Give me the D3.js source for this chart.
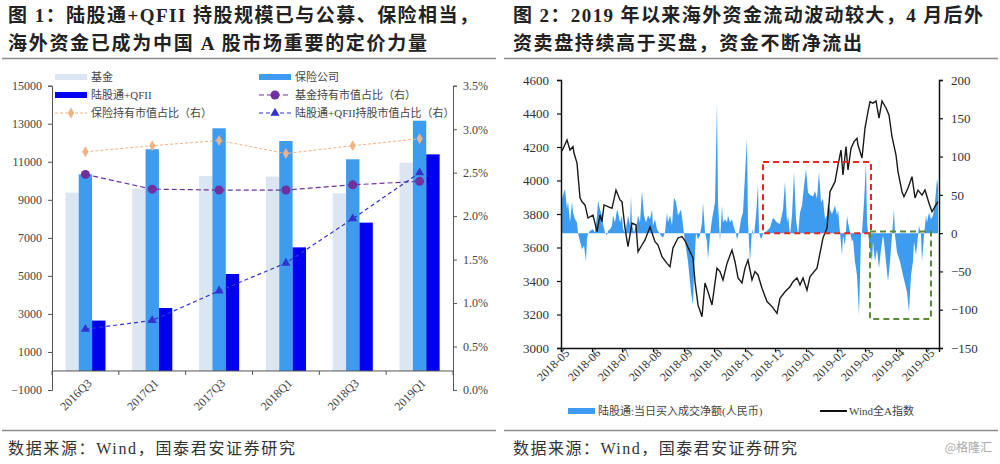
<!DOCTYPE html>
<meta charset="utf-8">
<style>
    body { margin: 0; background: #fff; }
    svg { display: block; background: #fff; }
    text { font-family: "Liberation Serif", "Noto Sans CJK SC", serif; fill: #333; }
    .title { font-size: 19px; font-weight: bold; fill: #222; }
    .foot { font-size: 16px; fill: #333; }
    .num { font-size: 12px; }
    .leg { font-size: 11px; fill: #444; }
</style>
<svg width="1000" height="464"></svg>
<script src="https://d3js.org/d3.v7.min.js"></script>
<script>
    // ---- figure 1 data ----
    var quarters = ["2016Q3", "2017Q1", "2017Q3", "2018Q1", "2018Q3", "2019Q1"];
    var fundValue = [9380, 9600, 10250, 10220, 9340, 10950];
    var insuranceValue = [10340, 11660, 12760, 12090, 11130, 13160];
    var foreignValue = [2650, 3310, 5100, 6500, 7800, 11390];
    var insuranceShare = [2.74, 2.81, 2.87, 2.72, 2.81, 2.89];
    var fundShare = [2.48, 2.31, 2.30, 2.30, 2.36, 2.40];
    var foreignShare = [0.70, 0.80, 1.14, 1.46, 1.97, 2.50];
    var leftTicks = [-1000, 1000, 3000, 5000, 7000, 9000, 11000, 13000, 15000];
    var pctTicks = [0, 0.5, 1, 1.5, 2, 2.5, 3, 3.5];

    // ---- figure 2 data (days counted from 2018-05-01) ----
    var startDate = "2018-05-01";
    var flowDays = [0, 4, 6, 7, 9, 11, 12, 14, 16, 17, 19, 21, 23, 25, 26, 27, 29, 32, 34, 36, 37, 39, 41, 42, 44, 46, 47, 49, 51, 52,
        54, 56, 57, 59, 61, 62, 64, 66, 67, 69, 70, 71, 73, 76, 77, 79, 81, 83, 85, 87, 89, 91, 92, 94, 96, 98, 100, 102, 104, 106,
        107, 109, 111, 113, 115, 117, 120, 122, 124, 127, 130, 132, 133, 135, 137, 139, 141, 142, 144, 146, 147, 149, 151, 154, 156, 157, 159, 161, 162, 164,
        166, 167, 169, 171, 172, 175, 176, 178, 180, 182, 184, 186, 187, 189, 191, 193, 195, 197, 198, 200, 202, 204, 206, 209, 212, 216, 219, 222, 224, 226,
        227, 229, 231, 233, 235, 237, 239, 241, 242, 245, 247, 249, 252, 254, 256, 258, 260, 262, 264, 266, 267, 269, 271, 274, 276, 277, 279, 281, 282, 284,
        286, 287, 289, 291, 292, 294, 296, 298, 300, 301, 303, 305, 306, 307, 309, 311, 312, 314, 316, 318, 320, 322, 323, 325, 327, 329, 331, 333, 334, 336,
        339, 342, 346, 348, 350, 352, 353, 355, 357, 358, 360, 361, 363, 365, 366, 368, 370, 372, 374, 376, 377];
    var flowValues = [41, 58, 32, 41, 14, 41, 27, 18, 14, 0, -11, -21, -16, -37, -8, -1, 3, 5, 1, 23, 42, 31, 23, 12, 1, -3, 3, 5, 10, 23,
        14, 31, 27, 14, 23, 5, 1, 14, 23, 10, 49, 10, 1, 14, 23, 14, 55, 23, 14, 23, 18, 31, 10, 18, 5, 1, -3, -6, 1, 27,
        14, 23, 10, 46, 41, 23, 31, 10, -11, -37, -77, -94, -50, 0, -8, -3, 14, 40, 1, -11, -34, -3, 18, 40, 169, 40, -11, 36, 14, 18,
        14, 23, 14, 18, 12, -1, -8, 1, 18, 27, 76, 124, 14, -37, 5, -3, 23, 63, 1, -8, -1, 1, 3, 7, 20, 14, 12, 31, 67, 14,
        23, -3, 23, 80, 18, -3, 27, 36, 49, 84, 53, 50, 48, 55, 45, 80, 40, 45, 18, 23, 40, 31, 25, 36, 23, 31, 1, -29, -3, -16,
        23, 14, 1, -11, -8, -37, -55, -107, -3, 1, 40, 92, 14, 1, -21, -37, -11, -37, -21, -46, -21, -3, -11, -37, -63, -37, -3, 31, -3, -25,
        -37, -55, -77, -103, -55, -37, -11, -29, -3, 10, -3, -37, -3, 23, 14, 27, 18, 23, 40, 71, 62];
    var indexDays = [1, 6, 9, 12, 13, 16, 19, 21, 24, 27, 32, 36, 39, 41, 43, 47, 51, 55, 59, 61, 64, 67, 71, 75, 77, 81, 84, 89, 94, 97,
        101, 106, 109, 112, 117, 121, 124, 132, 134, 137, 141, 144, 147, 151, 156, 159, 162, 166, 171, 174, 177, 181, 184, 187, 191, 194, 197, 201, 206, 211,
        216, 219, 224, 229, 232, 236, 239, 242, 246, 249, 256, 259, 262, 266, 269, 274, 277, 280, 282, 285, 287, 290, 293, 296, 297, 301, 304, 307, 309, 312,
        315, 318, 321, 325, 328, 331, 335, 337, 341, 343, 347, 351, 354, 357, 361, 364, 368, 371, 374, 377];
    var indexValues = [4176, 4242, 4182, 4202, 4164, 4104, 3896, 3873, 3854, 3776, 3794, 3695, 3794, 3754, 3854, 3844, 3834, 3943, 3884, 3874,
        3716, 3605, 3746, 3734, 3575, 3615, 3645, 3724, 3635, 3615, 3545, 3505, 3485, 3597, 3657, 3665, 3640, 3537, 3396, 3257,
        3187, 3388, 3336, 3257, 3477, 3456, 3406, 3505, 3585, 3515, 3418, 3388, 3477, 3525, 3406, 3456, 3436, 3357, 3277, 3247,
        3207, 3297, 3336, 3366, 3396, 3418, 3376, 3418, 3346, 3427, 3477, 3567, 3657, 3716, 3933, 3993, 4092, 4182, 4033, 4202,
        4063, 4192, 4232, 4252, 4212, 4134, 4313, 4411, 4470, 4462, 4475, 4373, 4475, 4433, 4391, 4262, 4152, 4053, 3933, 3903,
        3955, 4023, 3896, 3943, 3913, 3943, 3864, 3814, 3844, 3874];
    var endDay = 378;
    var indexTicks = [3000, 3200, 3400, 3600, 3800, 4000, 4200, 4400, 4600];
    var flowTicks = [-150, -100, -50, 0, 50, 100, 150, 200];
    var monthTicks = ["2018-05", "2018-06", "2018-07", "2018-08", "2018-09", "2018-10", "2018-11", "2018-12",
        "2019-01", "2019-02", "2019-03", "2019-04", "2019-05"];
    // annotation boxes: [fromDay, toDay, top, bottom] on the flow axis
    var buyBox = [202, 310, 93, 0];
    var sellBox = [309, 370, 2, -112];

    var svg = d3.select("svg");

    // stretch a text to a target width with letter-spacing (keeps glyphs compact)
    function fitText(sel, width) {
        var n = sel.text().length;
        var w = sel.node().getComputedTextLength();
        sel.style("letter-spacing", Math.max(0, (width - w) / (n - 1)) + "px");
    }

    // ---------- headers & footers ----------
    function header(x, lines, lens) {
        lines.forEach(function (t, i) {
            var tx = svg.append("text").attr("class", "title")
                .attr("x", x).attr("y", 22 + i * 28)
                .text(t);
            fitText(tx, lens[i]);
        });
    }
    header(8, ["图 1：陆股通+QFII 持股规模已与公募、保险相当，", "海外资金已成为中国 A 股市场重要的定价力量"], [470, 419]);
    header(513, ["图 2：2019 年以来海外资金流动波动较大，4 月后外", "资卖盘持续高于买盘，资金不断净流出"], [470, 349]);

    [[2, 496], [504, 998]].forEach(function (r) {
        svg.append("line").attr("x1", r[0]).attr("x2", r[1]).attr("y1", 58.5).attr("y2", 58.5)
            .attr("stroke", "#8c8c8c").attr("stroke-width", 1.3);
        svg.append("line").attr("x1", r[0]).attr("x2", r[1]).attr("y1", 430.5).attr("y2", 430.5)
            .attr("stroke", "#8c8c8c").attr("stroke-width", 1.3);
    });
    fitText(svg.append("text").attr("class", "foot").attr("x", 8).attr("y", 454).text("数据来源：Wind，国泰君安证券研究"), 287);
    fitText(svg.append("text").attr("class", "foot").attr("x", 513).attr("y", 454).text("数据来源：Wind，国泰君安证券研究"), 284);
    svg.append("text").attr("x", 992).attr("y", 452).attr("text-anchor", "end")
        .style("font-family", "'Noto Sans CJK SC', sans-serif").style("font-size", "12px").style("fill", "#aaa")
        .text("@格隆汇");

    // ---------- figure 1 ----------
    var L = { left: 52, right: 453, top: 85.7, bottom: 390 };
    var x0 = d3.scaleBand().domain(quarters).range([L.left, L.right]).paddingInner(0).paddingOuter(0);
    var x1 = d3.scaleBand().domain([0, 1, 2]).range([0, x0.bandwidth()]).paddingOuter(1).paddingInner(0);
    var yL = d3.scaleLinear().domain([-1000, 15000]).range([L.bottom, L.top]);
    var yP = d3.scaleLinear().domain([0, 3.5]).range([L.bottom, L.top]);
    var g1 = svg.append("g");

    var barColors = ["#dce6f2", "#3d9bf0", "#0000ee"];
    var barSeries = [fundValue, insuranceValue, foreignValue];
    barSeries.forEach(function (vals, s) {
        g1.selectAll(".bar" + s).data(vals).enter().append("rect")
            .attr("x", function (d, i) { return x0(quarters[i]) + x1(s); })
            .attr("width", x1.bandwidth())
            .attr("y", function (d) { return yL(d); })
            .attr("height", function (d) { return yL(0) - yL(d); })
            .attr("fill", barColors[s]);
    });

    // axes
    var axL = d3.axisLeft(yL).tickValues(leftTicks).tickSize(4).tickPadding(6).tickFormat(d3.format("d"));
    var axR = d3.axisRight(yP).tickValues(pctTicks).tickSize(4).tickPadding(6).tickFormat(function (d) { return d.toFixed(1) + "%"; });
    function styleAxis(sel) {
        sel.select(".domain").attr("stroke", "#555");
        sel.selectAll(".tick line").attr("stroke", "#555");
        sel.selectAll("text").attr("class", "num").style("fill", "#444").style("font-family", "'Liberation Serif', serif").style("font-size", "12px");
    }
    g1.append("g").attr("transform", "translate(" + L.left + ",0)").call(axL).call(styleAxis);
    g1.append("g").attr("transform", "translate(" + L.right + ",0)").call(axR).call(styleAxis);

    // category axis along zero
    var zeroY = yL(0);
    g1.append("line").attr("x1", L.left).attr("x2", L.right).attr("y1", zeroY).attr("y2", zeroY).attr("stroke", "#555");
    quarters.concat(["end"]).forEach(function (q, i) {
        var xx = L.left + i * x0.bandwidth();
        g1.append("line").attr("x1", xx).attr("x2", xx).attr("y1", zeroY).attr("y2", zeroY + 4).attr("stroke", "#555");
    });
    g1.selectAll(".qlab").data(quarters).enter().append("text")
        .attr("class", "num")
        .attr("transform", function (d) { return "translate(" + (x0(d) + x0.bandwidth() / 2 + 4) + "," + (zeroY + 10) + ") rotate(-45)"; })
        .attr("text-anchor", "end").attr("dy", "0.35em")
        .style("font-size", "12px").style("fill", "#444")
        .text(function (d) { return d; });

    // share lines
    var cx = function (d, i) { return x0(quarters[i]) + x0.bandwidth() / 2; };
    var lineSpecs = [
        { vals: insuranceShare, color: "#f4b183", dash: "3,2", w: 1, marker: "diamond" },
        { vals: fundShare, color: "#7030a0", dash: "5,3", w: 1.2, marker: "circle" },
        { vals: foreignShare, color: "#3333cc", dash: "4,3", w: 1.2, marker: "triangle" }
    ];
    function drawMarker(sel, type, color) {
        if (type === "circle") sel.append("circle").attr("r", 4.5).attr("fill", color);
        else if (type === "diamond") sel.append("path").attr("d", d3.symbol(d3.symbolDiamond, 34)).attr("fill", color);
        else sel.append("path").attr("d", d3.symbol(d3.symbolTriangle, 36)).attr("fill", color);
    }
    lineSpecs.forEach(function (s) {
        var line = d3.line().x(cx).y(function (d) { return yP(d); });
        g1.append("path").datum(s.vals).attr("d", line).attr("fill", "none")
            .attr("stroke", s.color).attr("stroke-width", s.w).attr("stroke-dasharray", s.dash);
        s.vals.forEach(function (v, i) {
            var m = g1.append("g").attr("transform", "translate(" + cx(v, i) + "," + yP(v) + ")");
            drawMarker(m, s.marker, s.color);
        });
    });

    // legend figure 1
    var leg1 = [
        { label: "基金", kind: "bar", color: barColors[0], x: 55, y: 77 },
        { label: "保险公司", kind: "bar", color: barColors[1], x: 259, y: 77 },
        { label: "陆股通+QFII", kind: "bar", color: barColors[2], x: 55, y: 95 },
        { label: "基金持有市值占比（右）", kind: "line", spec: lineSpecs[1], x: 259, y: 95 },
        { label: "保险持有市值占比（右）", kind: "line", spec: lineSpecs[0], x: 55, y: 113 },
        { label: "陆股通+QFII持股市值占比（右）", kind: "line", spec: lineSpecs[2], x: 259, y: 113 }
    ];
    leg1.forEach(function (d) {
        if (d.kind === "bar") {
            g1.append("rect").attr("x", d.x).attr("y", d.y - 3).attr("width", 32).attr("height", 6).attr("fill", d.color);
        } else {
            g1.append("line").attr("x1", d.x).attr("x2", d.x + 32).attr("y1", d.y).attr("y2", d.y)
                .attr("stroke", d.spec.color).attr("stroke-width", d.spec.w).attr("stroke-dasharray", d.spec.dash);
            drawMarker(g1.append("g").attr("transform", "translate(" + (d.x + 16) + "," + d.y + ")"), d.spec.marker, d.spec.color);
        }
        g1.append("text").attr("class", "leg").attr("x", d.x + 36).attr("y", d.y).attr("dy", "0.35em").text(d.label);
    });

    // ---------- figure 2 ----------
    var R = { left: 561, right: 939, top: 80, bottom: 348 };
    var t0 = d3.timeParse("%Y-%m-%d")(startDate);
    var dayToDate = function (d) { return d3.timeDay.offset(t0, d); };
    var xT = d3.scaleTime().domain([t0, dayToDate(endDay)]).range([R.left, R.right]);
    var yI = d3.scaleLinear().domain([3000, 4600]).range([R.bottom, R.top]);
    var yF = d3.scaleLinear().domain([-150, 200]).range([R.bottom, R.top]);
    var g2 = svg.append("g");

    var flow = flowDays.map(function (d, i) { return { t: dayToDate(d), v: flowValues[i] }; });
    var idx = indexDays.map(function (d, i) { return { t: dayToDate(d), v: indexValues[i] }; });

    g2.append("path").datum(flow)
        .attr("d", d3.area().x(function (d) { return xT(d.t); }).y0(yF(0)).y1(function (d) { return yF(d.v); }))
        .attr("fill", "#3d9bf0");

    g2.append("path").datum(idx)
        .attr("d", d3.line().x(function (d) { return xT(d.t); }).y(function (d) { return yI(d.v); }))
        .attr("fill", "none").attr("stroke", "#1a1a1a").attr("stroke-width", 1.4);

    // boxes
    function box(b, color) {
        g2.append("rect")
            .attr("x", xT(dayToDate(b[0]))).attr("width", xT(dayToDate(b[1])) - xT(dayToDate(b[0])))
            .attr("y", yF(b[2])).attr("height", yF(b[3]) - yF(b[2]))
            .attr("fill", "none").attr("stroke", color).attr("stroke-width", 2).attr("stroke-dasharray", "6,4");
    }
    box(buyBox, "#e8251e");
    box(sellBox, "#5b8a38");

    var axI = d3.axisLeft(yI).tickValues(indexTicks).tickSize(4).tickPadding(8).tickFormat(d3.format("d"));
    var axF = d3.axisRight(yF).tickValues(flowTicks).tickSize(4).tickPadding(8).tickFormat(d3.format("d"));
    function styleAxis2(sel) {
        sel.select(".domain").attr("stroke", "#111").attr("stroke-width", 1.5);
        sel.selectAll(".tick line").attr("stroke", "#111").attr("stroke-width", 1.2);
        sel.selectAll("text").style("fill", "#333").style("font-family", "'Liberation Serif', serif").style("font-size", "13px");
    }
    g2.append("g").attr("transform", "translate(" + R.left + ",0)").call(axI).call(styleAxis2);
    g2.append("g").attr("transform", "translate(" + R.right + ",0)").call(axF).call(styleAxis2);

    var monthDates = monthTicks.map(function (m) { return d3.timeParse("%Y-%m")(m); });
    var axX = d3.axisBottom(xT).tickValues(monthDates).tickSize(4).tickFormat(d3.timeFormat("%Y-%m"));
    var gx = g2.append("g").attr("transform", "translate(0," + R.bottom + ")").call(axX);
    gx.select(".domain").attr("stroke", "#111").attr("stroke-width", 1.5);
    gx.selectAll(".tick line").attr("stroke", "#111").attr("stroke-width", 1.2);
    gx.selectAll("text")
        .attr("text-anchor", "end").attr("x", 2).attr("y", 6).attr("dy", "0.35em")
        .attr("transform", "rotate(-45)")
        .style("fill", "#333").style("font-family", "'Liberation Serif', serif").style("font-size", "12px");

    // legend figure 2
    g2.append("rect").attr("x", 568).attr("y", 408).attr("width", 27).attr("height", 6).attr("fill", "#3d9bf0");
    g2.append("text").attr("class", "leg").attr("x", 598).attr("y", 411).attr("dy", "0.35em").text("陆股通:当日买入成交净额(人民币)");
    g2.append("line").attr("x1", 820).attr("x2", 847).attr("y1", 411).attr("y2", 411).attr("stroke", "#111").attr("stroke-width", 2);
    g2.append("text").attr("class", "leg").attr("x", 849).attr("y", 411).attr("dy", "0.35em").text("Wind全A指数");
</script>
